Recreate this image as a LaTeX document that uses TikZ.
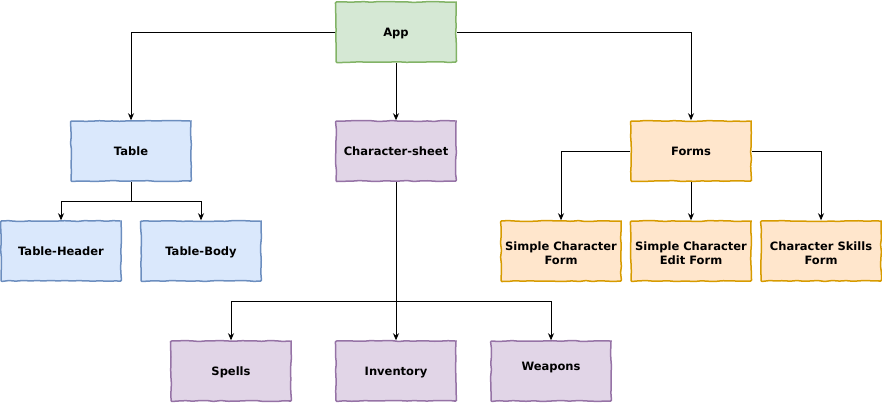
\documentclass[tikz,border=0pt]{standalone}
\usepackage{fontspec}
\setmainfont{DejaVu Sans}
\usepackage{xcolor}
\usetikzlibrary{arrows.meta,positioning,decorations.pathmorphing}

\definecolor{appfill}{HTML}{D5E8D4}
\definecolor{appline}{HTML}{82B366}
\definecolor{tabfill}{HTML}{DAE8FC}
\definecolor{tabline}{HTML}{6C8EBF}
\definecolor{shtfill}{HTML}{E1D5E7}
\definecolor{shtline}{HTML}{9673A6}
\definecolor{frmfill}{HTML}{FFE6CC}
\definecolor{frmline}{HTML}{D79B00}

\begin{document}
\begin{tikzpicture}[x=1pt,y=-1pt,
	box/.style={draw,line width=1.5pt,minimum width=120pt,minimum height=60pt,
		align=center,font=\bfseries\fontsize{11.5}{14}\selectfont,
		text height=9pt,text depth=1pt,
		decorate,decoration={random steps,segment length=7pt,amplitude=0.5pt},
		rounded corners=1pt},
	twoline/.style={text height=27pt},
	appbox/.style={box,fill=appfill,draw=appline},
	tabbox/.style={box,fill=tabfill,draw=tabline},
	shtbox/.style={box,fill=shtfill,draw=shtline},
	frmbox/.style={box,fill=frmfill,draw=frmline},
	conn/.style={draw,line width=0.8pt,-{Stealth[length=7pt,width=6pt]}}]
	\useasboundingbox (0,0) rectangle (882,402);
	% top
	\node[appbox] (app) at (396,32) {App};
	% second row
	\node[tabbox] (table) at (131,151) {Table};
	\node[shtbox] (sheet) at (396,151) {Character-sheet};
	\node[frmbox] (forms) at (691,151) {Forms};
	% third row
	\node[tabbox] (thead) at (61,251) {Table-Header};
	\node[tabbox] (tbody) at (201,251) {Table-Body};
	\node[frmbox,twoline] (fsimple) at (561,251) {Simple Character\\Form};
	\node[frmbox,twoline] (fedit) at (691,251) {Simple Character\\Edit Form};
	\node[frmbox,twoline] (fskills) at (821,251) {Character Skills\\Form};
	% bottom row
	\node[shtbox] (spells) at (231,371) {Spells};
	\node[shtbox] (inventory) at (396,371) {Inventory};
	\node[shtbox,text depth=11pt] (weapons) at (551,371) {Weapons};
	% branch points
	\coordinate (tsplit) at (131,201);
	\coordinate (ssplit) at (396,301);
	% connectors
	\draw[conn] (app.west) -| (table.north);
	\draw[conn] (app.south) -- (sheet.north);
	\draw[conn] (app.east) -| (forms.north);
	\draw[conn] (table.south) -- (tsplit) -| (thead.north);
	\draw[conn] (tsplit) -| (tbody.north);
	\draw[conn] (forms.west) -| (fsimple.north);
	\draw[conn] (forms.south) -- (fedit.north);
	\draw[conn] (forms.east) -| (fskills.north);
	\draw[conn] (sheet.south) -- (inventory.north);
	\draw[conn] (ssplit) -| (spells.north);
	\draw[conn] (ssplit) -| (weapons.north);
\end{tikzpicture}
\end{document}
